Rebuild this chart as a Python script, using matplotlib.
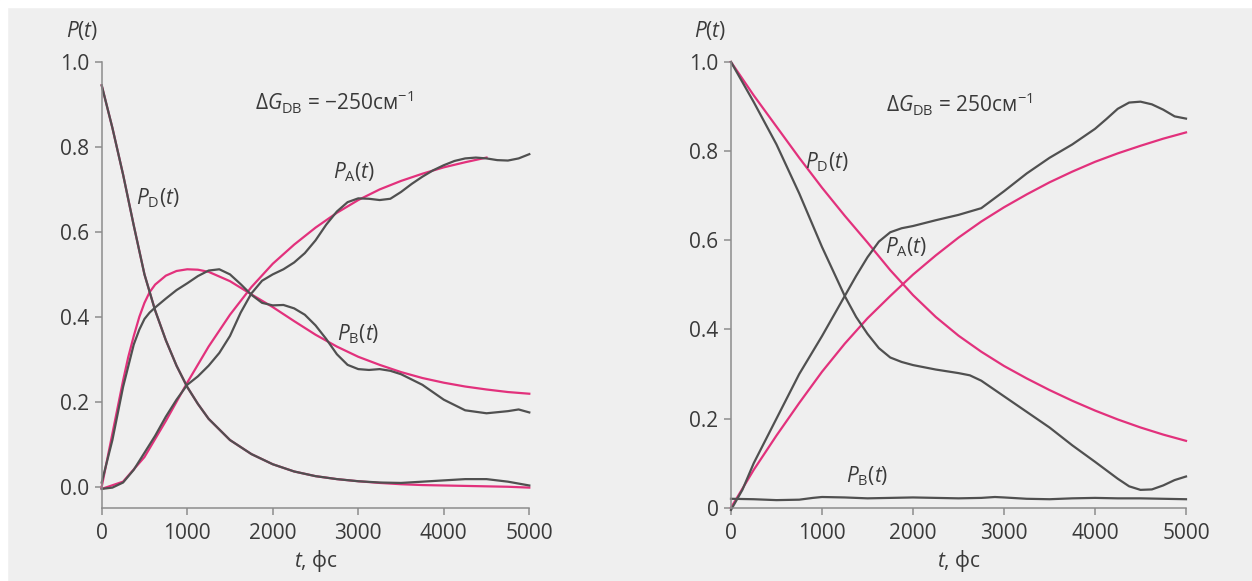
import matplotlib
matplotlib.use('Agg')
import matplotlib.pyplot as plt
from matplotlib.patches import Rectangle

plt.rcParams['font.family'] = ['Open Sans', 'DejaVu Sans']
plt.rcParams['mathtext.fontset'] = 'custom'
plt.rcParams['mathtext.rm'] = 'Open Sans'
plt.rcParams['mathtext.it'] = 'Open Sans:italic'

# ---- left panel: dG = -250 ----
t_pd_l = [0, 125, 250, 375, 500, 625, 750, 875, 1000, 1125, 1250, 1500, 1750, 2000, 2250, 2500,
          2750, 3000, 3250, 3500, 3750, 4000, 4250, 4500, 4750, 5000]
pd_fit_l = [0.945, 0.845, 0.735, 0.615, 0.50, 0.415, 0.345, 0.285, 0.235, 0.195, 0.16, 0.11,
            0.077, 0.053, 0.036, 0.025, 0.018, 0.013, 0.009, 0.006, 0.004, 0.003, 0.002, 0.001,
            0.0, -0.002]
pd_sim_l = [0.945, 0.845, 0.735, 0.615, 0.50, 0.415, 0.345, 0.285, 0.235, 0.195, 0.16, 0.11,
            0.077, 0.053, 0.036, 0.025, 0.018, 0.013, 0.010, 0.009, 0.012, 0.015, 0.018, 0.018,
            0.012, 0.003]

t_pb_fit_l = [0, 60, 125, 190, 250, 310, 375, 440, 500, 560, 625, 750, 875, 1000, 1125, 1250,
              1500, 1750, 2000, 2250, 2500, 2750, 3000, 3250, 3500, 3750, 4000, 4250, 4500,
              4750, 5000]
pb_fit_l = [0.0, 0.06, 0.125, 0.19, 0.25, 0.305, 0.355, 0.40, 0.433, 0.458, 0.476, 0.497, 0.508,
            0.512, 0.511, 0.506, 0.484, 0.453, 0.423, 0.39, 0.358, 0.33, 0.306, 0.287, 0.27,
            0.256, 0.245, 0.236, 0.229, 0.223, 0.219]

t_pb_sim_l = [0, 125, 250, 375, 440, 500, 560, 625, 750, 875, 1000, 1125, 1250, 1375, 1500,
              1625, 1750, 1875, 2000, 2125, 2250, 2375, 2500, 2625, 2750, 2875, 3000, 3125,
              3250, 3375, 3500, 3750, 4000, 4250, 4500, 4750, 4875, 5000]
pb_sim_l = [0.01, 0.11, 0.235, 0.335, 0.37, 0.395, 0.41, 0.422, 0.443, 0.463, 0.479, 0.496,
            0.509, 0.512, 0.50, 0.477, 0.452, 0.433, 0.427, 0.428, 0.42, 0.405, 0.38, 0.348,
            0.312, 0.287, 0.277, 0.275, 0.277, 0.273, 0.265, 0.24, 0.205, 0.18, 0.173, 0.178,
            0.182, 0.175]

t_pa_fit_l = [0, 250, 500, 750, 1000, 1250, 1500, 1750, 2000, 2250, 2500, 2750, 3000, 3250,
              3500, 3750, 4000, 4250, 4500]
pa_fit_l = [-0.005, 0.012, 0.07, 0.155, 0.245, 0.33, 0.405, 0.47, 0.525, 0.57, 0.61, 0.645,
            0.675, 0.70, 0.72, 0.737, 0.752, 0.764, 0.775]

t_pa_sim_l = [0, 125, 250, 375, 500, 625, 750, 875, 1000, 1125, 1250, 1375, 1500, 1625, 1750,
              1875, 2000, 2125, 2250, 2375, 2500, 2625, 2750, 2875, 3000, 3125, 3250, 3375,
              3500, 3625, 3750, 3875, 4000, 4125, 4250, 4375, 4500, 4625, 4750, 4875, 5000]
pa_sim_l = [-0.005, -0.002, 0.01, 0.04, 0.08, 0.12, 0.165, 0.205, 0.24, 0.26, 0.285, 0.315,
            0.355, 0.41, 0.455, 0.485, 0.50, 0.512, 0.528, 0.55, 0.58, 0.617, 0.648, 0.67, 0.679,
            0.678, 0.675, 0.678, 0.694, 0.713, 0.73, 0.745, 0.757, 0.767, 0.773, 0.775, 0.773,
            0.769, 0.768, 0.773, 0.783]

# ---- right panel: dG = +250 ----
t_fit_r = [0, 250, 500, 750, 1000, 1250, 1500, 1750, 2000, 2250, 2500, 2750, 3000, 3250,
           3500, 3750, 4000, 4250, 4500, 4750, 5000]
pd_fit_r = [1.0, 0.925, 0.855, 0.785, 0.718, 0.655, 0.595, 0.533, 0.477, 0.428, 0.386, 0.35,
            0.318, 0.29, 0.264, 0.24, 0.218, 0.198, 0.18, 0.164, 0.15]
pa_fit_r = [0.0, 0.085, 0.162, 0.235, 0.305, 0.368, 0.425, 0.475, 0.523, 0.566, 0.606, 0.642,
            0.674, 0.703, 0.73, 0.754, 0.776, 0.795, 0.812, 0.828, 0.842]

t_pd_sim_r = [0, 250, 500, 750, 1000, 1250, 1375, 1500, 1625, 1750, 1875, 2000, 2250, 2500,
              2625, 2750, 3000, 3250, 3500, 3750, 4000, 4250, 4375, 4500, 4625, 4750, 4875, 5000]
pd_sim_r = [1.0, 0.91, 0.815, 0.705, 0.585, 0.475, 0.428, 0.39, 0.358, 0.337, 0.327, 0.32,
            0.31, 0.302, 0.297, 0.285, 0.25, 0.215, 0.18, 0.14, 0.103, 0.065, 0.048, 0.04,
            0.041, 0.05, 0.062, 0.07]

t_pa_sim_r = [0, 125, 250, 500, 750, 1000, 1250, 1375, 1500, 1625, 1750, 1875, 2000, 2250,
              2500, 2750, 3000, 3250, 3500, 3750, 4000, 4125, 4250, 4375, 4500, 4625, 4750,
              4875, 5000]
pa_sim_r = [-0.005, 0.04, 0.10, 0.20, 0.30, 0.385, 0.475, 0.52, 0.562, 0.597, 0.618, 0.627,
            0.632, 0.645, 0.657, 0.672, 0.71, 0.75, 0.785, 0.815, 0.85, 0.872, 0.895, 0.909,
            0.911, 0.905, 0.893, 0.878, 0.873]

t_pb_sim_r = [0, 250, 500, 750, 900, 1000, 1250, 1500, 1750, 2000, 2250, 2500, 2750, 2900,
              3000, 3250, 3500, 3750, 4000, 4250, 4500, 4750, 5000]
pb_sim_r = [0.02, 0.019, 0.017, 0.018, 0.022, 0.024, 0.023, 0.021, 0.022, 0.023, 0.022, 0.021,
            0.022, 0.024, 0.023, 0.02, 0.019, 0.021, 0.022, 0.021, 0.021, 0.02, 0.019]

x_ticks = [0, 1000, 2000, 3000, 4000, 5000]
y_ticks = [0.0, 0.2, 0.4, 0.6, 0.8, 1.0]
y_labels_l = ['0.0', '0.2', '0.4', '0.6', '0.8', '1.0']
y_labels_r = ['0', '0.2', '0.4', '0.6', '0.8', '1.0']

PINK = '#e2317c'
GRAY = '#505050'
AXC = '#8c8c8c'
TXT = '#3a3a3a'
fs = 15

fig = plt.figure(figsize=(12.52, 5.81), dpi=100, facecolor='#efefef')
# white strip at top and left edge
fig.add_artist(Rectangle((0, 1 - 7 / 581), 1, 7 / 581, transform=fig.transFigure,
                         color='white', zorder=0))
fig.add_artist(Rectangle((0, 0), 7 / 1252, 1, transform=fig.transFigure,
                         color='white', zorder=0))

ax1 = fig.add_axes([101.7 / 1252, 73 / 581, 427.6 / 1252, 446 / 581])
ax2 = fig.add_axes([731 / 1252, 73.3 / 581, 455 / 1252, 445.7 / 581])


def style(ax, ylo, ylabels):
    ax.set_facecolor('none')
    ax.set_xlim(0, 5000)
    ax.set_ylim(ylo, 1.0)
    for s in ['top', 'right']:
        ax.spines[s].set_visible(False)
    for s in ['left', 'bottom']:
        ax.spines[s].set_color(AXC)
        ax.spines[s].set_linewidth(1.1)
    ax.set_xticks(x_ticks)
    ax.set_xticklabels([str(v) for v in x_ticks])
    ax.set_yticks(y_ticks)
    ax.set_yticklabels(ylabels)
    ax.tick_params(direction='out', length=5, width=1.1, color=AXC, labelcolor=TXT,
                   labelsize=fs, pad=4)
    ax.tick_params(axis='x', pad=6)
    ax.set_xlabel(r'$t$, фс', fontsize=fs, color=TXT, labelpad=3)
    ax.text(-0.045, 1.07, r'$P(t)$', transform=ax.transAxes, fontsize=fs, color=TXT,
            ha='center', va='center')


style(ax1, -0.05, y_labels_l)
style(ax2, 0.0, y_labels_r)

lw = 1.6
ax1.plot(t_pd_l, pd_fit_l, color=PINK, lw=lw, clip_on=False)
ax1.plot(t_pb_fit_l, pb_fit_l, color=PINK, lw=lw, clip_on=False)
ax1.plot(t_pa_fit_l, pa_fit_l, color=PINK, lw=lw, clip_on=False)
ax1.plot(t_pd_l, pd_sim_l, color=GRAY, lw=lw, clip_on=False)
ax1.plot(t_pb_sim_l, pb_sim_l, color=GRAY, lw=lw, clip_on=False)
ax1.plot(t_pa_sim_l, pa_sim_l, color=GRAY, lw=lw, clip_on=False)

ax2.plot(t_fit_r, pd_fit_r, color=PINK, lw=lw, clip_on=False)
ax2.plot(t_fit_r, pa_fit_r, color=PINK, lw=lw, clip_on=False)
ax2.plot(t_pd_sim_r, pd_sim_r, color=GRAY, lw=lw, clip_on=False)
ax2.plot(t_pa_sim_r, pa_sim_r, color=GRAY, lw=lw, clip_on=False)
ax2.plot(t_pb_sim_r, pb_sim_r, color=GRAY, lw=lw, clip_on=False)

ax1.text(1790, 0.905, r'$\Delta G_{\mathrm{DB}}$ = −250см$^{-1}$', fontsize=fs, color=TXT,
         ha='left', va='center')
ax1.text(650, 0.68, r'$P_{\mathrm{D}}(t)$', fontsize=fs, color=TXT, ha='center', va='center')
ax1.text(2950, 0.74, r'$P_{\mathrm{A}}(t)$', fontsize=fs, color=TXT, ha='center', va='center')
ax1.text(3000, 0.36, r'$P_{\mathrm{B}}(t)$', fontsize=fs, color=TXT, ha='center', va='center')

ax2.text(1700, 0.905, r'$\Delta G_{\mathrm{DB}}$ = 250см$^{-1}$', fontsize=fs, color=TXT,
         ha='left', va='center')
ax2.text(1050, 0.775, r'$P_{\mathrm{D}}(t)$', fontsize=fs, color=TXT, ha='center', va='center')
ax2.text(1920, 0.585, r'$P_{\mathrm{A}}(t)$', fontsize=fs, color=TXT, ha='center', va='center')
ax2.text(1500, 0.07, r'$P_{\mathrm{B}}(t)$', fontsize=fs, color=TXT, ha='center', va='center')

fig.savefig('out.png', dpi=100, facecolor=fig.get_facecolor())
